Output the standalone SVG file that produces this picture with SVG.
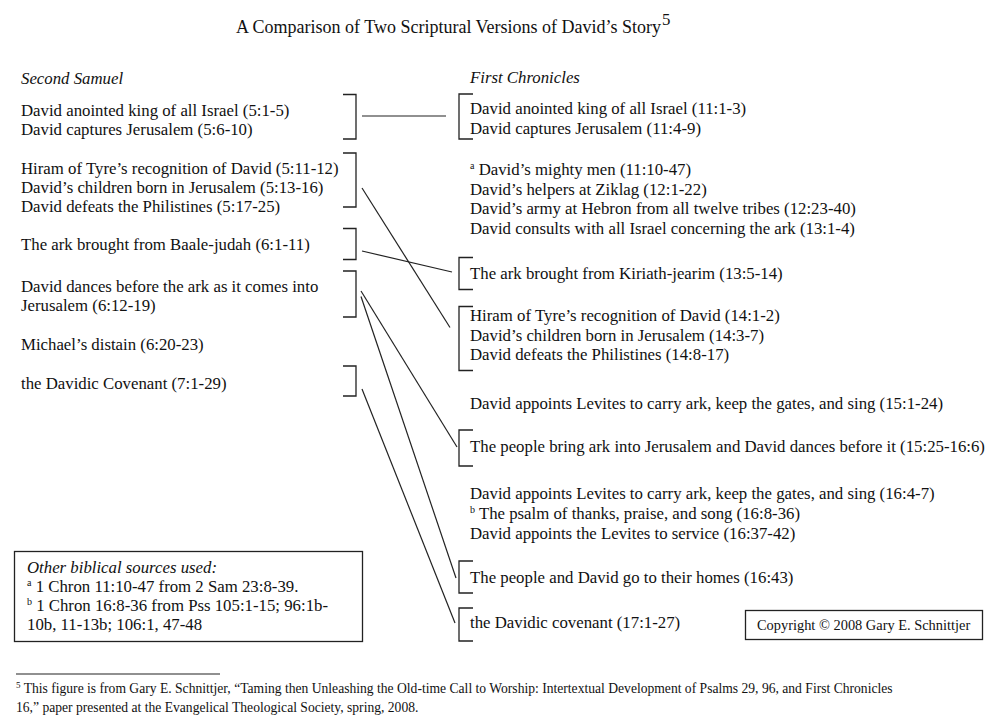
<svg xmlns="http://www.w3.org/2000/svg" width="1002" height="727" viewBox="0 0 1002 727">
<style>
text{font-family:"Liberation Serif","Times New Roman",serif;fill:#111;font-size:16.8px}
.t{font-size:18px}
.i{font-style:italic}
.c{font-size:14.4px}
.f{font-size:13.6px}
.br,.ln,.bx{fill:none;stroke:#222;stroke-width:1.3}
.ln{stroke-width:1.2}
</style>
<rect width="1002" height="727" fill="#fff"/>
<g id="title"><text class="t" x="236" y="33">A Comparison of Two Scriptural Versions of David’s Story</text><text x="662" y="25" font-size="10">5</text></g>
<g id="head-left"><text class="i" x="21" y="84">Second Samuel</text></g>
<g id="head-right"><text class="i" x="470" y="83">First Chronicles</text></g>

<g id="L1"><text x="21" y="116">David anointed king of all Israel (5:1-5)</text><text x="21" y="135">David captures Jerusalem (5:6-10)</text><path class="br" d="M343,94.5H356V139H343"/></g>
<g id="L2"><text x="21" y="174">Hiram of Tyre’s recognition of David (5:11-12)</text><text x="21" y="193">David’s children born in Jerusalem (5:13-16)</text><text x="21" y="212">David defeats the Philistines (5:17-25)</text><path class="br" d="M343,153H356V207H343"/></g>
<g id="L3"><text x="21" y="250">The ark brought from Baale-judah (6:1-11)</text><path class="br" d="M343,228.5H356V259.5H343"/></g>
<g id="L4"><text x="21" y="292">David dances before the ark as it comes into</text><text x="21" y="311">Jerusalem (6:12-19)</text><path class="br" d="M343,271H356V317H343"/></g>
<g id="L5"><text x="21" y="350">Michael’s distain (6:20-23)</text></g>
<g id="L6"><text x="21" y="389">the Davidic Covenant (7:1-29)</text><path class="br" d="M343,366H356V396H343"/></g>

<g id="R1"><text x="470" y="114">David anointed king of all Israel (11:1-3)</text><text x="470" y="134">David captures Jerusalem (11:4-9)</text><path class="br" d="M473,94H459V139H473"/></g>
<g id="R2"><text x="470" y="175"><tspan font-size="10" dy="-6">a</tspan><tspan dy="6"> David’s mighty men (11:10-47)</tspan></text><text x="470" y="195">David’s helpers at Ziklag (12:1-22)</text><text x="470" y="214">David’s army at Hebron from all twelve tribes (12:23-40)</text><text x="470" y="234">David consults with all Israel concerning the ark (13:1-4)</text></g>
<g id="R3"><text x="470" y="279">The ark brought from Kiriath-jearim (13:5-14)</text><path class="br" d="M473,257.5H459V289.5H473"/></g>
<g id="R4"><text x="470" y="321">Hiram of Tyre’s recognition of David (14:1-2)</text><text x="470" y="341">David’s children born in Jerusalem (14:3-7)</text><text x="470" y="360">David defeats the Philistines (14:8-17)</text><path class="br" d="M473,306.5H459V370.5H473"/></g>
<g id="R5"><text x="470" y="409">David appoints Levites to carry ark, keep the gates, and sing (15:1-24)</text></g>
<g id="R6"><text x="470" y="452">The people bring ark into Jerusalem and David dances before it (15:25-16:6)</text><path class="br" d="M473,430H459V466H473"/></g>
<g id="R7"><text x="470" y="499">David appoints Levites to carry ark, keep the gates, and sing (16:4-7)</text><text x="470" y="519"><tspan font-size="10" dy="-6">b</tspan><tspan dy="6"> The psalm of thanks, praise, and song (16:8-36)</tspan></text><text x="470" y="539">David appoints the Levites to service (16:37-42)</text></g>
<g id="R8"><text x="470" y="583">The people and David go to their homes (16:43)</text><path class="br" d="M473,561H459V593H473"/></g>
<g id="R9"><text x="470" y="628">the Davidic covenant (17:1-27)</text><path class="br" d="M473,608H459V641H473"/></g>

<g id="connectors">
<path class="ln" d="M362,116H446"/>
<path class="ln" d="M362,188L450,327.5"/>
<path class="ln" d="M362,251L452,272"/>
<path class="ln" d="M361,291L457,447"/>
<path class="ln" d="M361,296.5L456,578"/>
<path class="ln" d="M362,389L455,623"/>
</g>

<g id="sources"><rect class="bx" x="14.5" y="551.5" width="348" height="90"/>
<text class="i" x="27" y="573">Other biblical sources used:</text>
<text x="27" y="592"><tspan font-size="10" dy="-6">a</tspan><tspan dy="6"> 1 Chron 11:10-47 from 2 Sam 23:8-39.</tspan></text>
<text x="27" y="611"><tspan font-size="10" dy="-6">b</tspan><tspan dy="6"> 1 Chron 16:8-36 from Pss 105:1-15; 96:1b-</tspan></text>
<text x="27" y="630">10b, 11-13b; 106:1, 47-48</text></g>

<g id="copyright"><rect class="bx" x="745.5" y="610.5" width="237" height="29"/><text class="c" x="757" y="630">Copyright © 2008 Gary E. Schnittjer</text></g>

<g id="footnote"><path class="ln" d="M16,674H220"/>
<text class="f" x="16" y="693"><tspan font-size="9" dy="-5">5</tspan><tspan dy="5"> This figure is from Gary E. Schnittjer, “Taming then Unleashing the Old-time Call to Worship: Intertextual Development of Psalms 29, 96, and First Chronicles</tspan></text>
<text class="f" x="16" y="712">16,” paper presented at the Evangelical Theological Society, spring, 2008.</text></g>
</svg>
